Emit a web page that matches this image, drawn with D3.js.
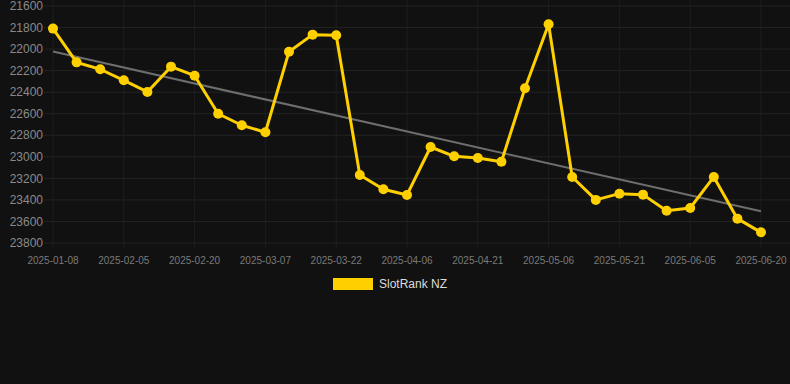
<!DOCTYPE html>
<html>
<head>
<meta charset="utf-8">
<script src="https://cdn.jsdelivr.net/npm/d3@7"></script>
<style>
  body { margin: 0; background: #111111; }
  svg { display: block; font-family: "Liberation Sans", Arial, sans-serif; }
</style>
</head>
<body>
<div id="chart"></div>
<script>
const dates = [
    '2025-01-08', '2025-01-26', '2025-01-31', '2025-02-05', '2025-02-10', '2025-02-15',
    '2025-02-20', '2025-02-25', '2025-03-02', '2025-03-07', '2025-03-12', '2025-03-17',
    '2025-03-22', '2025-03-27', '2025-04-01', '2025-04-06', '2025-04-11', '2025-04-16',
    '2025-04-21', '2025-04-26', '2025-05-01', '2025-05-06', '2025-05-11', '2025-05-16',
    '2025-05-21', '2025-05-26', '2025-05-31', '2025-06-05', '2025-06-10', '2025-06-15',
    '2025-06-20'
];

const ranks = [
    21810, 22123, 22187, 22290, 22398, 22163,
    22247, 22600, 22707, 22772, 22024, 21866,
    21872, 23168, 23301, 23354, 22909, 22995,
    23011, 23045, 22364, 21770, 23187, 23400,
    23342, 23351, 23500, 23475, 23187, 23574,
    23701
];

const yTicks = [21600, 21800, 22000, 22200, 22400, 22600, 22800, 23000, 23200, 23400, 23600, 23800];
const xTickLabels = dates.filter((d, i) => i % 3 === 0);
const seriesName = 'SlotRank NZ';

const width = 790, height = 384;
const gridLeft = 44, gridRight = 790;

const svg = d3.select("#chart").append("svg")
    .attr("width", width)
    .attr("height", height);

const x = d3.scalePoint()
    .domain(dates)
    .range([53, 761]);

// rank axis, best rank on top
const y = d3.scaleLinear()
    .domain([21600, 23800])
    .range([6, 243]);

// grid
svg.append("g")
    .selectAll("line")
    .data(yTicks)
  .enter().append("line")
    .attr("x1", gridLeft)
    .attr("x2", gridRight)
    .attr("y1", d => y(d))
    .attr("y2", d => y(d))
    .style("stroke", "#232323")
    .style("stroke-width", 1);

svg.append("g")
    .selectAll("line")
    .data(xTickLabels)
  .enter().append("line")
    .attr("x1", d => x(d))
    .attr("x2", d => x(d))
    .attr("y1", 0)
    .attr("y2", 248)
    .style("stroke", "#1e1e1e")
    .style("stroke-width", 1);

// y labels
svg.append("g")
    .selectAll("text")
    .data(yTicks)
  .enter().append("text")
    .attr("x", 43)
    .attr("y", d => y(d))
    .attr("dy", "0.35em")
    .attr("text-anchor", "end")
    .style("font-size", "12px")
    .style("fill", "#8a8a8a")
    .text(d => d);

// x labels
svg.append("g")
    .selectAll("text")
    .data(xTickLabels)
  .enter().append("text")
    .attr("x", d => x(d))
    .attr("y", 260)
    .attr("dy", "0.35em")
    .attr("text-anchor", "middle")
    .style("font-size", "10px")
    .style("fill", "#7a7a7a")
    .text(d => d);

// trend line (least squares over point index)
const n = ranks.length;
const meanI = d3.mean(ranks, (d, i) => i);
const meanV = d3.mean(ranks);
const slope = d3.sum(ranks, (d, i) => (i - meanI) * (d - meanV)) / d3.sum(ranks, (d, i) => (i - meanI) ** 2);
const trend = [0, n - 1].map(i => ({ date: dates[i], value: meanV + slope * (i - meanI) }));

svg.append("path")
    .datum(trend)
    .attr("d", d3.line().x(d => x(d.date)).y(d => y(d.value)))
    .style("fill", "none")
    .style("stroke", "#6e6e6e")
    .style("stroke-width", "2px");

// series
const series = dates.map((d, i) => ({ date: d, value: ranks[i] }));

svg.append("path")
    .datum(series)
    .attr("d", d3.line().x(d => x(d.date)).y(d => y(d.value)))
    .style("fill", "none")
    .style("stroke", "#ffd000")
    .style("stroke-width", "3px")
    .style("stroke-linejoin", "round");

svg.append("g")
    .selectAll("circle")
    .data(series)
  .enter().append("circle")
    .attr("cx", d => x(d.date))
    .attr("cy", d => y(d.value))
    .attr("r", 5)
    .style("fill", "#ffd000");

// legend
const legend = svg.append("g");
legend.append("rect")
    .attr("x", 333)
    .attr("y", 278)
    .attr("width", 40)
    .attr("height", 12)
    .style("fill", "#ffd000");
legend.append("text")
    .attr("x", 379)
    .attr("y", 284)
    .attr("dy", "0.35em")
    .style("font-size", "12px")
    .style("fill", "#dddddd")
    .text(seriesName);
</script>
</body>
</html>
